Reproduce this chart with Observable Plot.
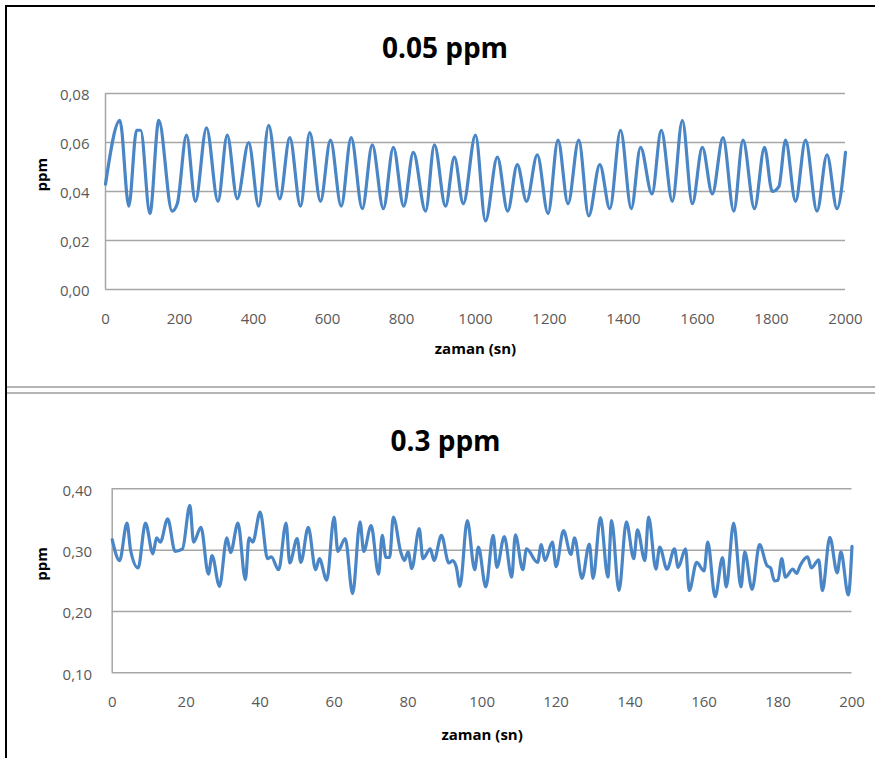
<!DOCTYPE html>
<html>
<head>
<meta charset="utf-8">
<script src="https://cdn.jsdelivr.net/npm/d3@7"></script>
<script src="https://cdn.jsdelivr.net/npm/@observablehq/plot@0.6"></script>
<style>
  html, body { margin: 0; padding: 0; background: #fff; }
  #chart { position: relative; width: 875px; height: 758px; background: #fff; overflow: hidden; }
  .abs { position: absolute; }
</style>
</head>
<body>
<div id="chart">
  <div class="abs" style="left:5px;top:5px;width:870px;height:2px;background:#000"></div>
  <div class="abs" style="left:5px;top:5px;width:2px;height:753px;background:#000"></div>
  <div class="abs" style="left:7px;top:386px;width:868px;height:2px;background:#b4b4b4"></div>
  <div class="abs" style="left:7px;top:392px;width:868px;height:2px;background:#b4b4b4"></div>
</div>
<script>
// ---- Panel 1: 0.05 ppm ----
const title05 = "0.05 ppm";
const time05 = [0, 39, 63, 84, 95, 120, 144, 180, 194, 219, 243, 273, 304, 329, 356, 387, 414, 441, 471, 498, 527, 552, 581, 608, 637, 664, 694, 721, 751, 778, 806, 832, 865, 889, 919, 943, 967, 1000, 1027, 1059, 1087, 1113, 1138, 1167, 1196, 1223, 1250, 1279, 1306, 1336, 1363, 1392, 1421, 1446, 1477, 1502, 1532, 1559, 1586, 1613, 1640, 1669, 1698, 1723, 1754, 1781, 1802, 1820, 1838, 1865, 1892, 1923, 1950, 1977, 2000];
const ppm05 = [0.043, 0.069, 0.034, 0.065, 0.065, 0.031, 0.069, 0.032, 0.035, 0.063, 0.036, 0.066, 0.036, 0.063, 0.037, 0.060, 0.034, 0.067, 0.037, 0.062, 0.034, 0.064, 0.036, 0.061, 0.034, 0.062, 0.033, 0.059, 0.033, 0.058, 0.034, 0.056, 0.032, 0.059, 0.034, 0.054, 0.035, 0.063, 0.028, 0.054, 0.032, 0.051, 0.036, 0.055, 0.031, 0.061, 0.035, 0.061, 0.030, 0.051, 0.033, 0.065, 0.033, 0.058, 0.039, 0.065, 0.036, 0.069, 0.035, 0.058, 0.039, 0.062, 0.032, 0.061, 0.033, 0.058, 0.040, 0.042, 0.061, 0.036, 0.061, 0.032, 0.055, 0.033, 0.056];
const xTicks05 = [0, 200, 400, 600, 800, 1000, 1200, 1400, 1600, 1800, 2000];
const yTicks05 = [0, 0.02, 0.04, 0.06, 0.08];

// ---- Panel 2: 0.3 ppm ----
const title03 = "0.3 ppm";
const time03 = [0, 2, 4, 5, 7, 9, 11, 12, 13, 15, 17, 19, 21, 22, 24, 26, 27, 29, 31, 32, 34, 36, 37, 38, 40, 42, 43, 45, 47, 48, 50, 51, 53, 55, 56, 58, 60, 61, 63, 65, 67, 68, 70, 72, 73, 74, 75, 76, 78, 79, 80, 81, 83, 84, 86, 87, 89, 91, 92, 93, 94, 96, 98, 99, 101, 103, 104, 106, 108, 109, 111, 112, 115, 116, 117, 119, 120, 122, 124, 125, 127, 129, 130, 132, 134, 135, 137, 139, 141, 142, 144, 145, 147, 148, 150, 152, 153, 155, 156, 158, 160, 161, 163, 165, 166, 168, 170, 171, 173, 175, 177, 178, 179, 180, 181, 182, 184, 185, 186, 188, 189, 191, 192, 194, 196, 197, 199, 200];
const ppm03 = [0.317, 0.283, 0.344, 0.299, 0.271, 0.344, 0.294, 0.320, 0.313, 0.351, 0.298, 0.302, 0.373, 0.313, 0.337, 0.261, 0.291, 0.241, 0.320, 0.296, 0.344, 0.252, 0.320, 0.313, 0.362, 0.286, 0.289, 0.268, 0.344, 0.279, 0.319, 0.280, 0.337, 0.268, 0.286, 0.251, 0.354, 0.298, 0.319, 0.229, 0.346, 0.298, 0.340, 0.261, 0.324, 0.288, 0.288, 0.354, 0.297, 0.283, 0.297, 0.270, 0.335, 0.286, 0.302, 0.283, 0.324, 0.279, 0.283, 0.273, 0.241, 0.348, 0.268, 0.305, 0.240, 0.324, 0.272, 0.322, 0.256, 0.325, 0.268, 0.302, 0.280, 0.309, 0.283, 0.313, 0.273, 0.332, 0.293, 0.320, 0.254, 0.310, 0.254, 0.353, 0.256, 0.348, 0.234, 0.346, 0.286, 0.333, 0.283, 0.354, 0.269, 0.305, 0.269, 0.302, 0.272, 0.302, 0.234, 0.280, 0.266, 0.313, 0.224, 0.288, 0.240, 0.344, 0.240, 0.297, 0.236, 0.309, 0.275, 0.271, 0.250, 0.251, 0.286, 0.256, 0.269, 0.262, 0.275, 0.289, 0.271, 0.284, 0.234, 0.321, 0.263, 0.297, 0.227, 0.306];
const xTicks03 = [0, 20, 40, 60, 80, 100, 120, 140, 160, 180, 200];
const yTicks03 = [0.10, 0.20, 0.30, 0.40];

const xLabel = "zaman (sn)";
const yLabel = "ppm";

const lineColor = "#4a86c5";
const gridColor = "#a6a6a6";
const fmt = d => d.toFixed(2).replace(".", ",");

const data05 = time05.map((t, i) => ({t, v: ppm05[i]}));
const data03 = time03.map((t, i) => ({t, v: ppm03[i]}));

function panel({data, xTicks, yTicks, title, height, mTop, mBottom, mLeft, mRight, yPad, titleDx, titleDy, xlDy, ylDx}) {
  return Plot.plot({
    width: 875,
    height,
    marginTop: mTop,
    marginBottom: mBottom,
    marginLeft: mLeft,
    marginRight: mRight,
    style: {fontFamily: "'Open Sans', sans-serif", fontSize: "15px", color: "#595959", background: "transparent", overflow: "visible"},
    x: {domain: [xTicks[0], xTicks[xTicks.length - 1]]},
    y: {domain: [yTicks[0], yTicks[yTicks.length - 1]]},
    marks: [
      Plot.ruleY(yTicks, {stroke: gridColor, strokeWidth: 1.5}),
      Plot.ruleX([xTicks[0]], {stroke: gridColor, strokeWidth: 1.5}),
      Plot.axisX({ticks: xTicks, tickSize: 0, tickPadding: 24, label: null, tickFormat: d => String(d)}),
      Plot.axisY({ticks: yTicks, tickSize: 0, tickPadding: yPad, label: null, tickFormat: fmt, dy: 2}),
      Plot.lineY(data, {x: "t", y: "v", stroke: lineColor, strokeWidth: 3.2, curve: "monotone-x"}),
      Plot.text([title], {text: d => d, frameAnchor: "top", lineAnchor: "bottom", dx: titleDx, dy: titleDy, fontSize: 28, fontWeight: "bold", fill: "#000"}),
      Plot.text([xLabel], {text: d => d, frameAnchor: "bottom", lineAnchor: "bottom", dy: xlDy, fontSize: 15, fontWeight: "bold", fill: "#000"}),
      Plot.text([yLabel], {text: d => d, frameAnchor: "left", rotate: -90, dx: ylDx, fontSize: 15, fontWeight: "bold", fill: "#000"})
    ]
  });
}

const topPlot = panel({data: data05, xTicks: xTicks05, yTicks: yTicks05, title: title05,
  height: 380, mTop: 93, mBottom: 91, mLeft: 105, mRight: 30, yPad: 16,
  titleDx: -30.5, titleDy: -36, xlDy: 64, ylDx: -63});
const bottomPlot = panel({data: data03, xTicks: xTicks03, yTicks: yTicks03, title: title03,
  height: 364, mTop: 94.3, mBottom: 85.7, mLeft: 111.7, mRight: 23.5, yPad: 20,
  titleDx: -36.6, titleDy: -38, xlDy: 67.5, ylDx: -69.7});

topPlot.style.position = "absolute"; topPlot.style.left = "0px"; topPlot.style.top = "0px";
bottomPlot.style.position = "absolute"; bottomPlot.style.left = "0px"; bottomPlot.style.top = "394px";
const chartDiv = document.getElementById("chart");
chartDiv.appendChild(topPlot);
chartDiv.appendChild(bottomPlot);
</script>
</body>
</html>
